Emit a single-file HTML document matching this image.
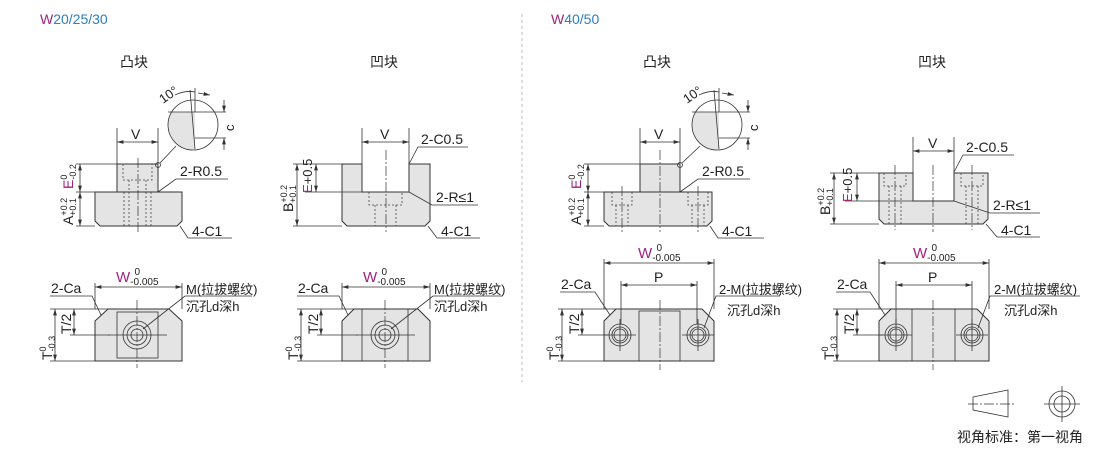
<!DOCTYPE html>
<html><head><meta charset="utf-8"><style>
html,body{margin:0;padding:0;background:#fff;}
svg{display:block;}
text{font-family:"Liberation Sans","Noto Sans CJK SC",sans-serif;fill:#222;}
.f{fill:#e4e4e4;stroke:#333;stroke-width:1;}
.l{stroke:#333;stroke-width:0.8;fill:none;}
.d{stroke:#444;stroke-width:0.8;fill:none;stroke-dasharray:2 2;}
.c{stroke:#333;stroke-width:0.7;fill:none;stroke-dasharray:10 2 2 2;}
.m{fill:#a0237f;}
.b{fill:#2a7fc0;}
</style></head><body>
<svg width="1110" height="453" viewBox="0 0 1110 453" xmlns="http://www.w3.org/2000/svg">
<defs>
<marker id="a" viewBox="0 0 10 6" refX="10" refY="3" markerWidth="8" markerHeight="5" orient="auto-start-reverse"><path d="M0,0 L10,3 L0,6z" fill="#333"/></marker>
</defs>

<text x="40" y="24" font-size="14"><tspan class="m">W</tspan><tspan class="b">20/25/30</tspan></text>
<text x="551" y="24" font-size="14"><tspan class="m">W</tspan><tspan class="b">40/50</tspan></text>
<line x1="522" y1="14" x2="522" y2="382" stroke="#bbb" stroke-dasharray="3 3"/>

<text x="120" y="67" font-size="14">凸块</text>
<text x="370" y="67" font-size="14">凹块</text>
<text x="643" y="67" font-size="14">凸块</text>
<text x="918" y="67" font-size="14">凹块</text>

<!-- ===== Panel 1 convex side ===== -->
<path class="f" d="M95,192 H182 V221 L177,226 H100 L95,221 Z"/>
<rect class="f" x="117" y="164" width="41" height="28"/>
<path class="d" d="M123,164 V180 H152 V164 M129,180 V226 M146,180 V226 M124,192 V226 M151,192 V226"/>
<line class="c" x1="138" y1="158" x2="138" y2="232"/>
<line class="l" x1="117" y1="164" x2="117" y2="128"/><line class="l" x1="158" y1="164" x2="158" y2="128"/>
<line class="l" x1="117" y1="142" x2="158" y2="142" marker-start="url(#a)" marker-end="url(#a)"/>
<text x="131" y="139" font-size="14">V</text>
<line class="l" x1="76" y1="164" x2="117" y2="164"/><line class="l" x1="76" y1="192" x2="95" y2="192"/><line class="l" x1="76" y1="226" x2="95" y2="226"/>
<line class="l" x1="80" y1="164" x2="80" y2="192" marker-start="url(#a)" marker-end="url(#a)"/>
<line class="l" x1="80" y1="192" x2="80" y2="226" marker-start="url(#a)" marker-end="url(#a)"/>
<g transform="translate(73,189) rotate(-90)"><text font-size="14"><tspan class="m">E</tspan><tspan font-size="9" dy="-6">0</tspan><tspan font-size="9" dx="-5" dy="9">-0.2</tspan></text></g>
<g transform="translate(73,225) rotate(-90)"><text font-size="14">A<tspan font-size="9" dy="-6">+0.2</tspan><tspan font-size="9" dx="-18" dy="9">+0.1</tspan></text></g>
<circle cx="158" cy="165" r="2.5" class="l"/>
<line class="l" x1="160" y1="163" x2="176" y2="146"/>
<path d="M171.6,112 A25,25 0 0,0 195,149.9 V112 Z" fill="#e4e4e4"/>
<circle cx="193" cy="125" r="25" class="l"/>
<line class="l" x1="168" y1="112" x2="226" y2="112"/><line class="l" x1="195" y1="138" x2="226" y2="138"/>
<line class="l" x1="195" y1="149" x2="190" y2="90"/><line class="l" x1="195" y1="112" x2="195" y2="88"/>
<line class="l" x1="224" y1="100" x2="224" y2="112" marker-end="url(#a)"/><line class="l" x1="224" y1="150" x2="224" y2="138" marker-end="url(#a)"/>
<text transform="translate(234,131) rotate(-90)" font-size="13">c</text>
<path class="l" d="M175,95 Q185,90 195,92 M198,93 L210,95" marker-end="url(#a)"/>
<text transform="translate(163,104) rotate(-35)" font-size="13">10°</text>
<path class="l" d="M158,192 L176,179 H228"/>
<text x="180" y="176" font-size="14">2-R0.5</text>
<path class="l" d="M180,226 L188,238 H232"/>
<text x="192" y="236" font-size="14">4-C1</text>

<!-- ===== Panel 2 concave side ===== -->
<path class="f" d="M342,164 H362 V192 H409 V164 H430 V221 L425,226 H347 L342,221 Z"/>
<path class="d" d="M369,192 V205 H402 V192 M375,205 V226 M396,205 V226"/>
<line class="c" x1="386" y1="150" x2="386" y2="232"/>
<line class="l" x1="362" y1="164" x2="362" y2="128"/><line class="l" x1="409" y1="164" x2="409" y2="128"/>
<line class="l" x1="362" y1="142" x2="409" y2="142" marker-start="url(#a)" marker-end="url(#a)"/>
<text x="380" y="139" font-size="14">V</text>
<path class="l" d="M409,164 L418,147 H468"/><text x="421" y="144" font-size="14">2-C0.5</text>
<path class="l" d="M409,192 L432,205 H478"/><text x="436" y="202" font-size="14">2-R≤1</text>
<path class="l" d="M428,226 L437,238 H480"/><text x="441" y="236" font-size="14">4-C1</text>
<line class="l" x1="293" y1="164" x2="342" y2="164"/><line class="l" x1="305" y1="192" x2="362" y2="192"/><line class="l" x1="293" y1="226" x2="342" y2="226"/>
<line class="l" x1="297" y1="164" x2="297" y2="226" marker-start="url(#a)" marker-end="url(#a)"/>
<line class="l" x1="316" y1="164" x2="316" y2="192" marker-start="url(#a)" marker-end="url(#a)"/>
<g transform="translate(293,212) rotate(-90)"><text font-size="14">B<tspan font-size="9" dy="-6">+0.2</tspan><tspan font-size="9" dx="-18" dy="9">+0.1</tspan></text></g>
<g transform="translate(312,193) rotate(-90)"><text font-size="13"><tspan class="m">E</tspan>+0.5</text></g>

<!-- ===== Panel 1 top view ===== -->
<path class="f" d="M95,321 L108,309 H169 L182,321 V361 H95 Z"/>
<rect x="117" y="312" width="41" height="46" class="l"/>
<circle cx="137" cy="335" r="14" class="l"/><circle cx="137" cy="335" r="10" class="l"/><circle cx="137" cy="335" r="6" class="l" fill="#fff"/>
<line class="c" x1="137" y1="300" x2="137" y2="368"/><line class="l" x1="108" y1="335" x2="167" y2="335"/>
<line class="l" x1="95" y1="309" x2="95" y2="283"/><line class="l" x1="182" y1="309" x2="182" y2="283"/>
<line class="l" x1="95" y1="287" x2="182" y2="287" marker-start="url(#a)" marker-end="url(#a)"/>
<text x="116" y="282" font-size="15"><tspan class="m">W</tspan><tspan font-size="10" dy="3">-0.005</tspan><tspan font-size="10" dx="-24" dy="-10">0</tspan></text>
<path class="l" d="M50,296 H92 L101,315"/><text x="51" y="293" font-size="14">2-Ca</text>
<path class="l" d="M143,329 L185,296 H252"/>
<text x="186" y="294" font-size="13">M(拉拔螺纹)</text><text x="186" y="311" font-size="13">沉孔d深h</text>
<line class="l" x1="50" y1="309" x2="108" y2="309"/><line class="l" x1="50" y1="361" x2="95" y2="361"/><line class="l" x1="70" y1="335" x2="110" y2="335"/>
<line class="l" x1="55" y1="309" x2="55" y2="361" marker-start="url(#a)" marker-end="url(#a)"/>
<line class="l" x1="74" y1="309" x2="74" y2="335" marker-start="url(#a)" marker-end="url(#a)"/>
<g transform="translate(52,360) rotate(-90)"><text font-size="14">T<tspan font-size="9" dy="-6">0</tspan><tspan font-size="9" dx="-5" dy="9">-0.3</tspan></text></g>
<text transform="translate(71,334) rotate(-90)" font-size="14">T/2</text>

<!-- ===== Panel 2 top view ===== -->
<path class="f" d="M342,321 L354,309 H418 L430,321 V361 H342 Z"/>
<line class="l" x1="362" y1="309" x2="362" y2="361"/><line class="l" x1="408" y1="309" x2="408" y2="361"/>
<circle cx="385" cy="335" r="14" class="l"/><circle cx="385" cy="335" r="10" class="l"/><circle cx="385" cy="335" r="6" class="l" fill="#fff"/>
<line class="c" x1="385" y1="300" x2="385" y2="368"/><line class="l" x1="356" y1="335" x2="415" y2="335"/>
<line class="l" x1="342" y1="309" x2="342" y2="283"/><line class="l" x1="430" y1="309" x2="430" y2="283"/>
<line class="l" x1="342" y1="287" x2="430" y2="287" marker-start="url(#a)" marker-end="url(#a)"/>
<text x="363" y="282" font-size="15"><tspan class="m">W</tspan><tspan font-size="10" dy="3">-0.005</tspan><tspan font-size="10" dx="-24" dy="-10">0</tspan></text>
<path class="l" d="M297,296 H339 L348,315"/><text x="298" y="293" font-size="14">2-Ca</text>
<path class="l" d="M391,329 L433,296 H502"/>
<text x="434" y="294" font-size="13">M(拉拔螺纹)</text><text x="434" y="311" font-size="13">沉孔d深h</text>
<line class="l" x1="297" y1="309" x2="354" y2="309"/><line class="l" x1="297" y1="361" x2="342" y2="361"/><line class="l" x1="317" y1="335" x2="358" y2="335"/>
<line class="l" x1="301" y1="309" x2="301" y2="361" marker-start="url(#a)" marker-end="url(#a)"/>
<line class="l" x1="321" y1="309" x2="321" y2="335" marker-start="url(#a)" marker-end="url(#a)"/>
<g transform="translate(298,360) rotate(-90)"><text font-size="14">T<tspan font-size="9" dy="-6">0</tspan><tspan font-size="9" dx="-5" dy="9">-0.3</tspan></text></g>
<text transform="translate(318,334) rotate(-90)" font-size="14">T/2</text>

<!-- ===== Panel 3 convex side W40 ===== -->
<path class="f" d="M604,192 H712 V221 L707,226 H609 L604,221 Z"/>
<rect class="f" x="640" y="164" width="40" height="28"/>
<path class="d" d="M612,192 V205 H632 V192 M616,205 V226 M628,205 V226 M688,192 V205 H708 V192 M692,205 V226 M704,205 V226"/>
<line class="c" x1="660" y1="150" x2="660" y2="232"/><line class="c" x1="622" y1="186" x2="622" y2="232"/><line class="c" x1="698" y1="186" x2="698" y2="232"/>
<line class="l" x1="640" y1="164" x2="640" y2="128"/><line class="l" x1="680" y1="164" x2="680" y2="128"/>
<line class="l" x1="640" y1="142" x2="680" y2="142" marker-start="url(#a)" marker-end="url(#a)"/>
<text x="654" y="139" font-size="14">V</text>
<line class="l" x1="584" y1="164" x2="640" y2="164"/><line class="l" x1="584" y1="192" x2="604" y2="192"/><line class="l" x1="584" y1="226" x2="604" y2="226"/>
<line class="l" x1="588" y1="164" x2="588" y2="192" marker-start="url(#a)" marker-end="url(#a)"/>
<line class="l" x1="588" y1="192" x2="588" y2="226" marker-start="url(#a)" marker-end="url(#a)"/>
<g transform="translate(581,189) rotate(-90)"><text font-size="14"><tspan class="m">E</tspan><tspan font-size="9" dy="-6">0</tspan><tspan font-size="9" dx="-5" dy="9">-0.2</tspan></text></g>
<g transform="translate(581,225) rotate(-90)"><text font-size="14">A<tspan font-size="9" dy="-6">+0.2</tspan><tspan font-size="9" dx="-18" dy="9">+0.1</tspan></text></g>
<circle cx="680" cy="165" r="2.5" class="l"/>
<line class="l" x1="682" y1="163" x2="700" y2="146"/>
<path d="M695.6,112 A25,25 0 0,0 719,149.9 V112 Z" fill="#e4e4e4"/>
<circle cx="717" cy="125" r="25" class="l"/>
<line class="l" x1="692" y1="112" x2="750" y2="112"/><line class="l" x1="719" y1="138" x2="750" y2="138"/>
<line class="l" x1="719" y1="149" x2="714" y2="90"/><line class="l" x1="719" y1="112" x2="719" y2="88"/>
<line class="l" x1="748" y1="100" x2="748" y2="112" marker-end="url(#a)"/><line class="l" x1="748" y1="150" x2="748" y2="138" marker-end="url(#a)"/>
<text transform="translate(758,131) rotate(-90)" font-size="13">c</text>
<path class="l" d="M699,95 Q709,90 719,92 M722,93 L734,95" marker-end="url(#a)"/>
<text transform="translate(687,104) rotate(-35)" font-size="13">10°</text>
<path class="l" d="M680,192 L698,179 H750"/><text x="702" y="176" font-size="14">2-R0.5</text>
<path class="l" d="M710,226 L718,238 H764"/><text x="722" y="236" font-size="14">4-C1</text>

<!-- ===== Panel 4 concave side W40 ===== -->
<path class="f" d="M879,173 H913 V201 H954 V173 H988 V219 L983,224 H884 L879,219 Z"/>
<path class="d" d="M884,173 V186 H906 V173 M889,186 V224 M901,186 V224 M961,173 V186 H983 V173 M966,186 V224 M978,186 V224"/>
<line class="c" x1="895" y1="165" x2="895" y2="230"/><line class="c" x1="972" y1="165" x2="972" y2="230"/><line class="c" x1="933" y1="165" x2="933" y2="232"/>
<line class="l" x1="913" y1="173" x2="913" y2="137"/><line class="l" x1="954" y1="173" x2="954" y2="137"/>
<line class="l" x1="913" y1="151" x2="954" y2="151" marker-start="url(#a)" marker-end="url(#a)"/>
<text x="928" y="148" font-size="14">V</text>
<path class="l" d="M954,172 L963,155 H1014"/><text x="966" y="152" font-size="14">2-C0.5</text>
<path class="l" d="M954,201 L990,213 H1040"/><text x="993" y="210" font-size="14">2-R≤1</text>
<path class="l" d="M986,224 L997,237 H1040"/><text x="1001" y="235" font-size="14">4-C1</text>
<line class="l" x1="830" y1="173" x2="879" y2="173"/><line class="l" x1="845" y1="201" x2="913" y2="201"/><line class="l" x1="830" y1="224" x2="879" y2="224"/>
<line class="l" x1="834" y1="173" x2="834" y2="224" marker-start="url(#a)" marker-end="url(#a)"/>
<line class="l" x1="857" y1="173" x2="857" y2="201" marker-start="url(#a)" marker-end="url(#a)"/>
<g transform="translate(830,215) rotate(-90)"><text font-size="14">B<tspan font-size="9" dy="-6">+0.2</tspan><tspan font-size="9" dx="-18" dy="9">+0.1</tspan></text></g>
<g transform="translate(852,202) rotate(-90)"><text font-size="13"><tspan class="m">E</tspan>+0.5</text></g>

<!-- ===== Panel 3 top view W40 ===== -->
<path class="f" d="M604,321 L616,309 H702 L714,321 V361 H604 Z"/>
<rect x="639" y="311" width="41" height="50" class="l"/>
<g class="l">
<circle cx="620" cy="335" r="11"/><circle cx="620" cy="335" r="8"/><circle cx="620" cy="335" r="6"/>
<circle cx="698" cy="335" r="11"/><circle cx="698" cy="335" r="8"/><circle cx="698" cy="335" r="6"/>
<line x1="604" y1="335" x2="636" y2="335"/><line x1="682" y1="335" x2="714" y2="335"/>
<line x1="620" y1="319" x2="620" y2="351"/><line x1="698" y1="319" x2="698" y2="351"/>
</g>
<line class="c" x1="660" y1="300" x2="660" y2="370"/>
<line class="l" x1="604" y1="309" x2="604" y2="259"/><line class="l" x1="714" y1="309" x2="714" y2="259"/>
<line class="l" x1="604" y1="263" x2="714" y2="263" marker-start="url(#a)" marker-end="url(#a)"/>
<text x="638" y="258" font-size="15"><tspan class="m">W</tspan><tspan font-size="10" dy="3">-0.005</tspan><tspan font-size="10" dx="-24" dy="-10">0</tspan></text>
<line class="l" x1="621" y1="324" x2="621" y2="281"/><line class="l" x1="697" y1="324" x2="697" y2="281"/>
<line class="l" x1="621" y1="285" x2="697" y2="285" marker-start="url(#a)" marker-end="url(#a)"/>
<text x="654" y="282" font-size="14">P</text>
<path class="l" d="M560,292 H595 L610,315"/><text x="561" y="289" font-size="14">2-Ca</text>
<path class="l" d="M704,328 L716,296 H780"/>
<text x="719" y="294" font-size="13">2-M(拉拔螺纹)</text><text x="727" y="315" font-size="13">沉孔d深h</text>
<line class="l" x1="558" y1="309" x2="616" y2="309"/><line class="l" x1="558" y1="361" x2="604" y2="361"/><line class="l" x1="578" y1="335" x2="608" y2="335"/>
<line class="l" x1="562" y1="309" x2="562" y2="361" marker-start="url(#a)" marker-end="url(#a)"/>
<line class="l" x1="582" y1="309" x2="582" y2="335" marker-start="url(#a)" marker-end="url(#a)"/>
<g transform="translate(559,360) rotate(-90)"><text font-size="14">T<tspan font-size="9" dy="-6">0</tspan><tspan font-size="9" dx="-5" dy="9">-0.3</tspan></text></g>
<text transform="translate(579,334) rotate(-90)" font-size="14">T/2</text>

<!-- ===== Panel 4 top view W40 ===== -->
<path class="f" d="M879,321 L891,309 H977 L989,321 V361 H879 Z"/>
<line class="l" x1="912" y1="309" x2="912" y2="361"/><line class="l" x1="955" y1="309" x2="955" y2="361"/>
<g class="l">
<circle cx="896" cy="335" r="11"/><circle cx="896" cy="335" r="8"/><circle cx="896" cy="335" r="6"/>
<circle cx="972" cy="335" r="11"/><circle cx="972" cy="335" r="8"/><circle cx="972" cy="335" r="6"/>
<line x1="880" y1="335" x2="912" y2="335"/><line x1="956" y1="335" x2="988" y2="335"/>
<line x1="896" y1="319" x2="896" y2="351"/><line x1="972" y1="319" x2="972" y2="351"/>
</g>
<line class="c" x1="933" y1="300" x2="933" y2="370"/>
<line class="l" x1="879" y1="309" x2="879" y2="259"/><line class="l" x1="989" y1="309" x2="989" y2="259"/>
<line class="l" x1="879" y1="263" x2="989" y2="263" marker-start="url(#a)" marker-end="url(#a)"/>
<text x="913" y="258" font-size="15"><tspan class="m">W</tspan><tspan font-size="10" dy="3">-0.005</tspan><tspan font-size="10" dx="-24" dy="-10">0</tspan></text>
<line class="l" x1="896" y1="324" x2="896" y2="281"/><line class="l" x1="972" y1="324" x2="972" y2="281"/>
<line class="l" x1="896" y1="285" x2="972" y2="285" marker-start="url(#a)" marker-end="url(#a)"/>
<text x="928" y="282" font-size="14">P</text>
<path class="l" d="M836,292 H870 L885,315"/><text x="837" y="289" font-size="14">2-Ca</text>
<path class="l" d="M978,328 L990,296 H1080"/>
<text x="994" y="294" font-size="13">2-M(拉拔螺纹)</text><text x="1004" y="315" font-size="13">沉孔d深h</text>
<line class="l" x1="833" y1="309" x2="891" y2="309"/><line class="l" x1="833" y1="361" x2="879" y2="361"/><line class="l" x1="853" y1="335" x2="883" y2="335"/>
<line class="l" x1="837" y1="309" x2="837" y2="361" marker-start="url(#a)" marker-end="url(#a)"/>
<line class="l" x1="857" y1="309" x2="857" y2="335" marker-start="url(#a)" marker-end="url(#a)"/>
<g transform="translate(834,360) rotate(-90)"><text font-size="14">T<tspan font-size="9" dy="-6">0</tspan><tspan font-size="9" dx="-5" dy="9">-0.3</tspan></text></g>
<text transform="translate(854,334) rotate(-90)" font-size="14">T/2</text>

<!-- ===== legend ===== -->
<path class="l" d="M973,397 L1008,390 V417 L973,410 Z"/>
<line class="c" x1="968" y1="404" x2="1014" y2="404"/>
<circle cx="1062" cy="404" r="13" class="l"/><circle cx="1062" cy="404" r="8" class="l"/>
<line class="l" x1="1044" y1="404" x2="1080" y2="404"/><line class="l" x1="1062" y1="386" x2="1062" y2="422"/>
<text x="957" y="442" font-size="14">视角标准：第一视角</text>
</svg>
</body></html>
